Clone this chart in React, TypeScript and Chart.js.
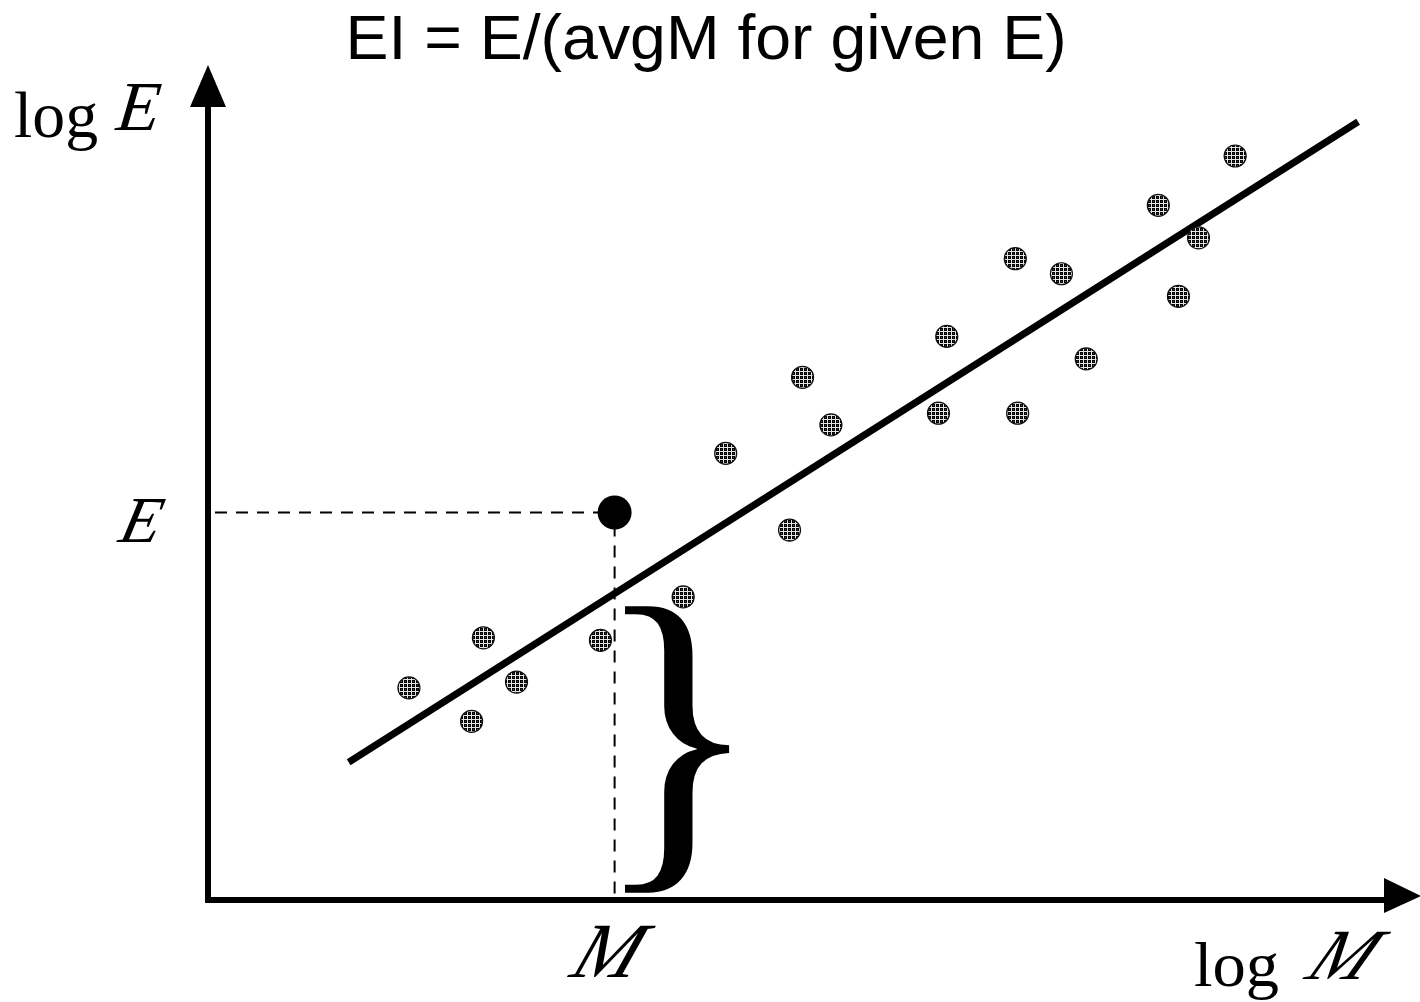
import React, { useEffect, useRef } from "react";
import { Chart, registerables } from "chart.js";

Chart.register(...registerables);

// Scatter sample (log M, log E) in arbitrary units
const pointsLogM = [1.70, 2.23, 2.33, 2.61, 3.32, 4.02, 4.38, 4.92, 5.03, 5.27, 6.18, 6.25, 6.83, 6.85, 7.22, 7.43, 8.04, 8.21, 8.38, 8.69];
const pointsLogE = [2.54, 2.14, 3.14, 2.61, 3.11, 3.63, 5.35, 4.43, 6.26, 5.69, 5.83, 6.75, 7.68, 5.83, 7.50, 6.48, 8.32, 7.23, 7.93, 8.91];

// Fitted relation end points
const fitLogM = [1.19, 9.73];
const fitLogE = [1.65, 9.32];

// Highlighted object
const markedLogM = [3.44];
const markedLogE = [4.64];

const titleText = "EI = E/(avgM for given E)";

function makePattern(): CanvasPattern | string {
  const c = document.createElement("canvas");
  c.width = 4;
  c.height = 4;
  const g = c.getContext("2d");
  if (!g) return "#444";
  g.fillStyle = "#000000";
  g.fillRect(0, 0, 4, 4);
  g.fillStyle = "#e6e6e6";
  g.fillRect(3, 0, 1, 4);
  g.fillRect(0, 3, 4, 1);
  g.fillStyle = "#444444";
  g.fillRect(1, 1, 1, 1);
  const p = g.createPattern(c, "repeat");
  return p || "#444";
}

function drawFit(ctx: CanvasRenderingContext2D, text: string, font: string, x0: number, y0: number, x1: number, y1: number) {
  ctx.save();
  ctx.font = font;
  ctx.textAlign = "left";
  ctx.textBaseline = "alphabetic";
  const m = ctx.measureText(text);
  const w = m.actualBoundingBoxLeft + m.actualBoundingBoxRight;
  const h = m.actualBoundingBoxAscent + m.actualBoundingBoxDescent;
  ctx.translate(x0, y0);
  ctx.scale((x1 - x0) / w, (y1 - y0) / h);
  ctx.fillStyle = "#000";
  ctx.fillText(text, m.actualBoundingBoxLeft, m.actualBoundingBoxAscent);
  ctx.restore();
}

// fits height by uniform scaling, extra width is obtained by slanting (keeps strokes thin)
function drawSlanted(ctx: CanvasRenderingContext2D, text: string, font: string, x0: number, y0: number, x1: number, y1: number) {
  ctx.save();
  ctx.font = font;
  ctx.textAlign = "left";
  ctx.textBaseline = "alphabetic";
  const m = ctx.measureText(text);
  const w = m.actualBoundingBoxLeft + m.actualBoundingBoxRight;
  const h = m.actualBoundingBoxAscent + m.actualBoundingBoxDescent;
  const H = y1 - y0;
  const W = x1 - x0;
  const s = H / h;
  const k = Math.max(0, (W - w * s) / H);
  ctx.translate(x0, y1);
  ctx.transform(1, 0, -k, 1, 0, 0);
  ctx.scale(s, s);
  ctx.fillStyle = "#000";
  ctx.fillText(text, m.actualBoundingBoxLeft, -m.actualBoundingBoxDescent);
  ctx.restore();
}

const decorPlugin = {
  id: "decor",
  beforeDatasetsDraw(chart: any) {
    const ctx: CanvasRenderingContext2D = chart.ctx;
    const xs = chart.scales.x;
    const ys = chart.scales.y;
    const px = xs.getPixelForValue(markedLogM[0]);
    const py = ys.getPixelForValue(markedLogE[0]);
    const x0 = xs.getPixelForValue(0);
    const y0 = ys.getPixelForValue(0);
    ctx.save();
    ctx.strokeStyle = "#000";
    ctx.lineWidth = 2;
    ctx.setLineDash([12, 9]);
    ctx.beginPath();
    ctx.moveTo(x0 + 7, py);
    ctx.lineTo(px - 10, py);
    ctx.stroke();
    ctx.beginPath();
    ctx.moveTo(px, py + 12);
    ctx.lineTo(px, y0 - 4);
    ctx.stroke();
    ctx.restore();
  },
  afterDraw(chart: any) {
    const ctx: CanvasRenderingContext2D = chart.ctx;
    const xs = chart.scales.x;
    const ys = chart.scales.y;
    const x0 = xs.getPixelForValue(0);
    const y0 = ys.getPixelForValue(0);
    const px = xs.getPixelForValue(markedLogM[0]);
    const py = ys.getPixelForValue(markedLogE[0]);
    ctx.save();
    ctx.strokeStyle = "#000";
    ctx.fillStyle = "#000";
    ctx.lineWidth = 6;
    ctx.lineCap = "butt";
    // y axis
    ctx.beginPath();
    ctx.moveTo(x0, y0 + 3);
    ctx.lineTo(x0, 100);
    ctx.stroke();
    ctx.beginPath();
    ctx.moveTo(x0, 65);
    ctx.lineTo(x0 + 18, 107);
    ctx.lineTo(x0 - 18, 107);
    ctx.closePath();
    ctx.fill();
    // x axis
    ctx.beginPath();
    ctx.moveTo(x0 - 3, y0);
    ctx.lineTo(1386, y0);
    ctx.stroke();
    ctx.beginPath();
    ctx.moveTo(1421, y0 - 4);
    ctx.lineTo(1384, y0 - 22);
    ctx.lineTo(1384, y0 + 13);
    ctx.closePath();
    ctx.fill();
    ctx.restore();

    // brace below the fitted line at M
    drawFit(ctx, "}", "300px 'Liberation Serif'", px + 6, 603, px + 115, y0 - 5);

    // title
    drawFit(ctx, titleText, "58px 'Liberation Sans'", 350, 13, 1063, 72);

    // axis labels
    drawFit(ctx, "log", "64px 'Liberation Serif'", 15, 92, 97, 151);
    drawSlanted(ctx, "E", "italic 64px 'Liberation Serif'", 114, 84, 163, 130);
    drawFit(ctx, "log", "64px 'Liberation Serif'", 1195, 943, 1278, 1000);
    drawSlanted(ctx, "M", "italic 72px 'Liberation Serif'", 1302, 932, 1392, 979);
    // marked values
    drawSlanted(ctx, "E", "italic 64px 'Liberation Serif'", 116, py - 14, 167, py + 29);
    drawSlanted(ctx, "M", "italic 72px 'Liberation Serif'", px - 48, 926, px + 42, 977);
  },
};

export default function App() {
  const ref = useRef<HTMLCanvasElement | null>(null);
  useEffect(() => {
    document.body.style.margin = "0";
    const canvas = ref.current;
    if (!canvas) return;
    const pattern = makePattern();
    const chart = new Chart(canvas, {
      type: "scatter",
      data: {
        datasets: [
          {
            label: "marked",
            data: markedLogM.map((x, i) => ({ x, y: markedLogE[i] })),
            pointRadius: 17,
            pointBackgroundColor: "#000",
            pointBorderColor: "#000",
            pointBorderWidth: 0,
            order: 0,
          } as any,
          {
            label: "sample",
            data: pointsLogM.map((x, i) => ({ x, y: pointsLogE[i] })),
            pointRadius: 11,
            pointBackgroundColor: pattern,
            pointBorderColor: "#111",
            pointBorderWidth: 1.2,
            order: 1,
          } as any,
          {
            type: "line",
            label: "fit",
            data: fitLogM.map((x, i) => ({ x, y: fitLogE[i] })),
            borderColor: "#000",
            borderWidth: 7,
            pointRadius: 0,
            showLine: true,
            borderCapStyle: "butt",
            fill: false,
            order: 2,
          } as any,
        ],
      },
      options: {
        responsive: false,
        animation: false,
        devicePixelRatio: 1,
        layout: { padding: { left: 208, right: 30, top: 65, bottom: 102 } },
        scales: {
          x: { type: "linear", min: 0, max: 10, display: false },
          y: { type: "linear", min: 0, max: 10, display: false },
        },
        plugins: {
          legend: { display: false },
          tooltip: { enabled: false },
          title: { display: false },
        },
      },
      plugins: [decorPlugin],
    });
    return () => chart.destroy();
  }, []);
  return <canvas ref={ref} width={1420} height={1002} style={{ display: "block" }} />;
}
